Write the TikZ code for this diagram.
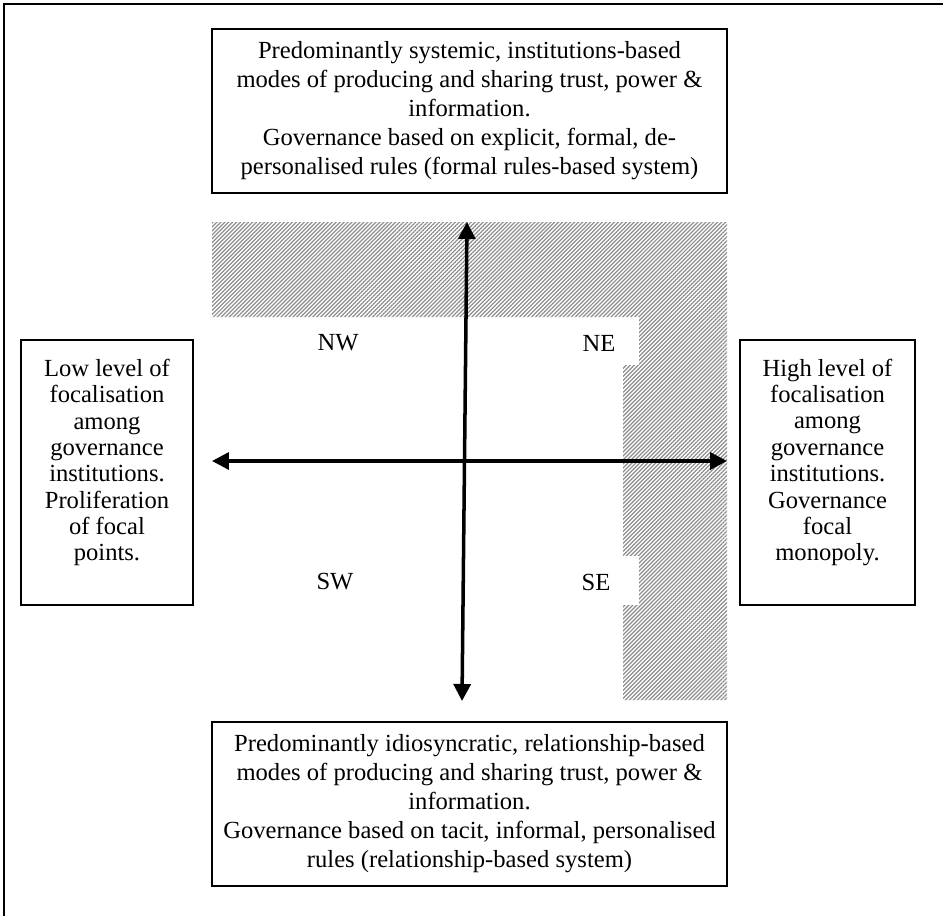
\documentclass[tikz,border=0pt]{standalone}
\usepackage{fontspec}
\setmainfont{Liberation Serif}
\usetikzlibrary{arrows.meta,patterns.meta}

\begin{document}
\begin{tikzpicture}[x=0.02cm,y=-0.02cm,font=\fontsize{14}{16.5}\selectfont,
  bx/.style={draw,line width=0.9pt,align=center,inner sep=2pt},
  wide/.style={bx,minimum width=10.3cm,minimum height=3.28cm},
  side/.style={bx,minimum height=5.3cm},
  sidetext/.style={align=center,font=\fontsize{14}{15}\selectfont},
  ax/.style={{Triangle[length=0.34cm,width=0.34cm]}-{Triangle[length=0.34cm,width=0.34cm]},line width=2pt},
  hatch/.style={pattern={Lines[angle=45,distance=1.6pt,line width=0.7pt]},pattern color=black!45}]
\useasboundingbox (0,0) rectangle (943,916);
% outer frame, top and left edge only
\draw[line width=1.1pt] (4,916) -- (4,4) -- (943,4);
% hatched band round N and E
\fill[hatch] (212,222) -- (727,222) -- (727,700) -- (623,700) -- (623,605) -- (639,605)
  -- (639,556) -- (623,556) -- (623,365) -- (639,365) -- (639,317) -- (212,317) -- cycle;
% the four poles
\node[wide] (top) at (469.5,111) {Predominantly systemic, institutions-based\\
  modes of producing and sharing trust, power \&\\ information.\\
  Governance based on explicit, formal, de-\\
  personalised rules (formal rules-based system)};
\node[wide] (bot) at (469.5,804) {Predominantly idiosyncratic, relationship-based\\
  modes of producing and sharing trust, power \&\\ information.\\
  Governance based on tacit, informal, personalised\\
  rules (relationship-based system)};
\node[side,minimum width=3.44cm] (lft) at (107,472.5) {};
\node[side,minimum width=3.5cm] (rgt) at (827.5,472.5) {};
\node[sidetext] (lfttext) at ([yshift=5.7pt]lft.center) {Low level of\\ focalisation\\ among\\
  governance\\ institutions.\\ Proliferation\\ of focal\\ points.};
\node[sidetext] (rgttext) at ([yshift=5.7pt]rgt.center) {High level of\\ focalisation\\ among\\
  governance\\ institutions.\\ Governance\\ focal\\ monopoly.};
% axes
\coordinate (W) at (212,461);
\coordinate (E) at (727,461);
\coordinate (N) at (467,222);
\coordinate (S) at (462,701);
\draw[ax] (W) -- (E);
\draw[ax] (S) -- (N);
% quadrant labels
\node (nw) at (338,343) {NW};
\node (ne) at (599,343) {NE};
\node (sw) at (335,582) {SW};
\node (se) at (596,582) {SE};
\end{tikzpicture}
\end{document}
